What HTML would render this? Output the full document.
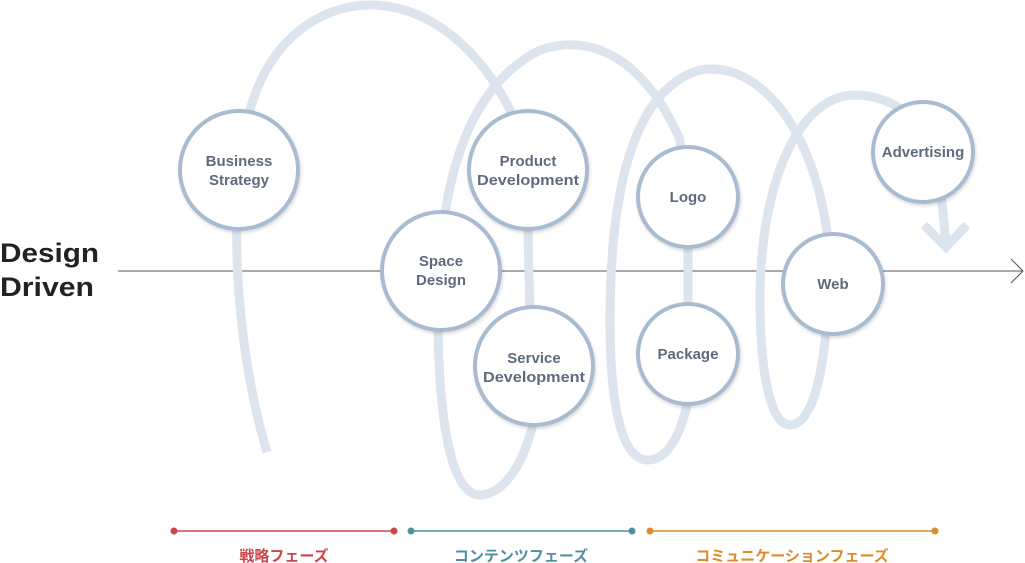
<!DOCTYPE html>
<html><head><meta charset="utf-8"><style>
body{margin:0;background:#fff;}
svg{display:block;}
.c{fill:#fff;stroke:#a9bbd1;stroke-width:4;}
.t{font-family:"Liberation Sans",sans-serif;font-weight:bold;font-size:15px;fill:#5f6b7d;text-anchor:middle;}
.j{font-family:"Liberation Sans","Noto Sans CJK JP",sans-serif;font-weight:bold;font-size:15px;text-anchor:middle;}
</style></head><body>
<svg width="1025" height="563" viewBox="0 0 1025 563">
<defs><filter id="s" x="-20%" y="-20%" width="140%" height="140%"><feDropShadow dx="1" dy="2" stdDeviation="1.5" flood-color="#000" flood-opacity="0.15"/></filter></defs>
<line x1="118" y1="271" x2="1022" y2="271" stroke="#555" stroke-width="1"/>
<polyline points="1011,259 1023,271 1011,283" fill="none" stroke="#555" stroke-width="1"/>
<path d="M267,452 C245,380 225,250 245,130 C265,30 330,5 370,5 C430,5 480,50 510,110 L528,230 L530,320 L534,420 C520,480 495,495 480,495 C455,495 440,440 438,330 C436,200 460,90 540,50 C600,30 650,70 680,140 L688,250 L688,400 C680,440 665,460 648,460 C620,460 610,400 610,320 C610,200 630,90 700,70 C760,60 815,130 828,240 L826,330 C820,400 805,425 790,425 C770,425 760,370 760,300 C760,180 800,95 855,95 C900,95 935,130 940,180 L946,245" fill="none" stroke="#dce4ee" stroke-width="9"/>
<polyline points="924,225 946,247 967,225" fill="none" stroke="#dce4ee" stroke-width="9"/>
<g filter="url(#s)">
<circle class="c" cx="239" cy="170" r="59"/>
<circle class="c" cx="441" cy="271" r="59"/>
<circle class="c" cx="528" cy="170" r="59"/>
<circle class="c" cx="534" cy="366" r="59"/>
<circle class="c" cx="688" cy="197" r="50"/>
<circle class="c" cx="688" cy="354" r="50"/>
<circle class="c" cx="833" cy="284" r="50"/>
<circle class="c" cx="923" cy="152" r="50"/>
</g>
<text class="t" x="239" y="166">Business</text><text class="t" x="239" y="185">Strategy</text>
<text class="t" x="441" y="266">Space</text><text class="t" x="441" y="285">Design</text>
<text class="t" x="528" y="166">Product</text><text class="t" x="528" y="185" textLength="102" lengthAdjust="spacingAndGlyphs">Development</text>
<text class="t" x="534" y="363">Service</text><text class="t" x="534" y="382" textLength="102" lengthAdjust="spacingAndGlyphs">Development</text>
<text class="t" x="688" y="202">Logo</text>
<text class="t" x="688" y="359">Package</text>
<text class="t" x="833" y="289">Web</text>
<text class="t" x="923" y="157">Advertising</text>
<text x="0" y="262" font-family="Liberation Sans,sans-serif" font-weight="bold" font-size="27" fill="#222" textLength="99" lengthAdjust="spacingAndGlyphs">Design</text>
<text x="0" y="296" font-family="Liberation Sans,sans-serif" font-weight="bold" font-size="27" fill="#222" textLength="94" lengthAdjust="spacingAndGlyphs">Driven</text>
<line x1="174" y1="531" x2="394" y2="531" stroke="#c9474a" stroke-width="1.5"/>
<circle cx="174" cy="531" r="3.5" fill="#c9474a"/><circle cx="394" cy="531" r="3.5" fill="#c9474a"/>
<line x1="411" y1="531" x2="632" y2="531" stroke="#4f8fa0" stroke-width="1.5"/>
<circle cx="411" cy="531" r="3.5" fill="#4f8fa0"/><circle cx="632" cy="531" r="3.5" fill="#4f8fa0"/>
<line x1="650" y1="531" x2="935" y2="531" stroke="#e08a2a" stroke-width="1.5"/>
<circle cx="650" cy="531" r="3.5" fill="#e08a2a"/><circle cx="935" cy="531" r="3.5" fill="#e08a2a"/>
<text class="j" x="284" y="561" fill="#c9474a">戦略フェーズ</text>
<text class="j" x="521" y="561" fill="#4f8fa0">コンテンツフェーズ</text>
<text class="j" x="792" y="561" fill="#e08a2a">コミュニケーションフェーズ</text>
</svg>
</body></html>
